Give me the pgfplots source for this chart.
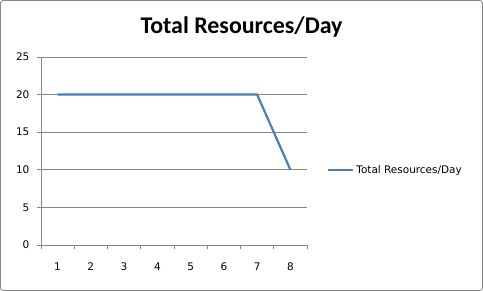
\documentclass[border=0pt]{standalone}
\usepackage{fontspec}
\setmainfont{DejaVu Sans}
\newfontfamily\titlefont{Carlito}
\usepackage{pgfplots}
\pgfplotsset{compat=1.18}
\definecolor{exblue}{HTML}{4A7EBB}
\definecolor{gridgray}{HTML}{868686}
\begin{document}
\begin{tikzpicture}
\draw[gridgray, rounded corners=3bp, line width=0.8bp] (0.5bp,0.5bp) rectangle (482.5bp,290.5bp);
\node[font=\titlefont\bfseries\fontsize{24}{28}\selectfont] at (241.5bp,264bp) {Total Resources/Day};
\begin{axis}[
  at={(41bp,46bp)}, anchor=south west,
  scale only axis, width=266bp, height=188bp,
  xmin=0.5, xmax=8.5, ymin=0, ymax=25,
  axis x line=bottom, axis y line=left,
  axis line style={-, gridgray, line width=0.8bp},
  xtick={1,...,8}, ytick={0,5,...,25},
  minor xtick={0.5,1.5,...,8.5},
  tick align=outside,
  major tick length=4bp, minor tick length=4bp,
  x tick style={draw=none},
  minor x tick style={draw=gridgray, line width=0.8bp},
  y tick style={gridgray, line width=0.8bp},
  ymajorgrids, grid style={gridgray, line width=0.8bp},
  minor grid style={draw=none},
  xticklabel style={font=\fontsize{10.5}{12}\selectfont, yshift=-10bp},
  yticklabel style={font=\fontsize{10.5}{12}\selectfont, xshift=-4bp},
  /pgf/number format/assume math mode=true,
  legend style={at={(1.075,0.40)}, anchor=west, draw=none, fill=none,
    font=\fontsize{10.5}{12}\selectfont, inner sep=0pt},
  legend image code/.code={\draw[#1] (0bp,0bp) -- (25bp,0bp);},
]
\addplot[exblue, line width=2.2bp] coordinates {(1,20) (2,20) (3,20) (4,20) (5,20) (6,20) (7,20) (8,10)};
\addlegendentry{Total Resources/Day}
\end{axis}
\end{tikzpicture}
\end{document}
